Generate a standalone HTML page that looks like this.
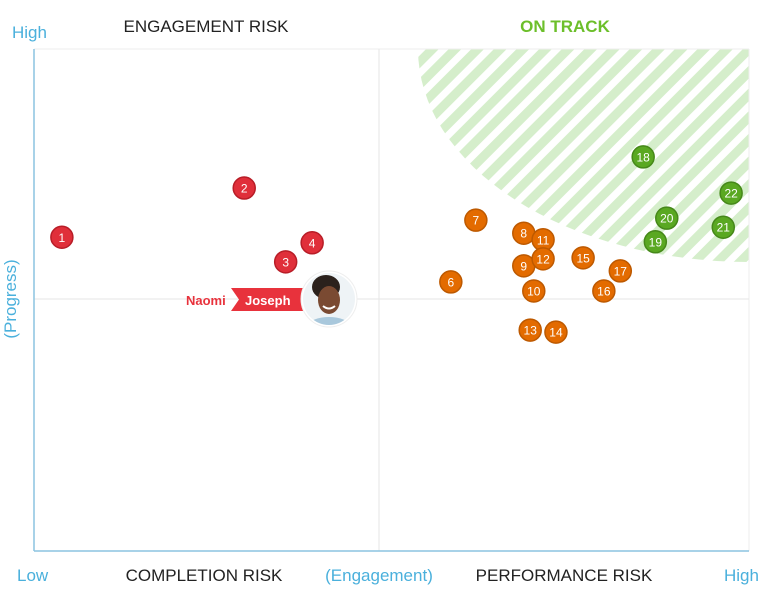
<!DOCTYPE html>
<html><head><meta charset="utf-8"><style>
html,body{margin:0;padding:0;background:#fff;width:774px;height:595px;overflow:hidden}
svg text{font-family:"Liberation Sans","DejaVu Sans",sans-serif}
</style></head><body>
<svg id="chart" width="774" height="595" viewBox="0 0 774 595" xmlns="http://www.w3.org/2000/svg">
<defs>
<pattern id="hatch" patternUnits="userSpaceOnUse" width="16" height="16" patternTransform="rotate(45)">
<rect x="0" y="0" width="9" height="16" fill="#d5eecb"/>
</pattern>
<clipPath id="plotclip"><rect x="34" y="49" width="715" height="502"/></clipPath>
<clipPath id="avclip"><circle cx="329" cy="299" r="26"/></clipPath>
</defs>
<g id="hatch-area" clip-path="url(#plotclip)">
<ellipse cx="749" cy="49" rx="331" ry="213" fill="url(#hatch)"/>
</g>
<line x1="34" y1="49" x2="749" y2="49" stroke="#eeeeee"/>
<line x1="749" y1="49" x2="749" y2="551" stroke="#eeeeee"/>
<line x1="379" y1="49" x2="379" y2="551" stroke="#e6e6e6"/>
<line x1="34" y1="299" x2="749" y2="299" stroke="#e6e6e6"/>
<line x1="34" y1="49" x2="34" y2="551" stroke="#8cc4e0" stroke-width="1.5"/>
<line x1="34" y1="551" x2="749" y2="551" stroke="#8cc4e0" stroke-width="1.5"/>

<text x="12" y="38" font-size="17" fill="#4ab0dc">High</text>
<text x="206" y="32" font-size="17" fill="#222" text-anchor="middle">ENGAGEMENT RISK</text>
<text x="565" y="32" font-size="17" fill="#6cbf2a" font-weight="bold" text-anchor="middle">ON TRACK</text>
<text x="17" y="581" font-size="17" fill="#4ab0dc">Low</text>
<text x="204" y="581" font-size="17" fill="#222" text-anchor="middle">COMPLETION RISK</text>
<text x="379" y="581" font-size="17" fill="#4ab0dc" text-anchor="middle">(Engagement)</text>
<text x="564" y="581" font-size="17" fill="#222" text-anchor="middle">PERFORMANCE RISK</text>
<text x="724" y="581" font-size="17" fill="#4ab0dc">High</text>
<text transform="translate(16,299) rotate(-90)" font-size="17" fill="#4ab0dc" text-anchor="middle">(Progress)</text>

<g id="points"></g>

<g>
<text x="186" y="305" font-size="13" font-weight="bold" fill="#e8323c">Naomi</text>
<path d="M231,288 L310,288 L310,311 L231,311 L239,299.5 Z" fill="#e8323c"/>
<text x="245" y="305" font-size="13" font-weight="bold" fill="#fff">Joseph</text>
<circle cx="329" cy="299" r="28" fill="#fff" stroke="#eee"/>
<g clip-path="url(#avclip)">
<rect x="300" y="270" width="60" height="60" fill="#eef3f6"/>
<ellipse cx="329" cy="325" rx="20" ry="8" fill="#a9c8dc"/>
<ellipse cx="326" cy="287" rx="14" ry="12" fill="#2b211c"/>
<ellipse cx="329" cy="300" rx="11" ry="14" fill="#7a4a32"/>
<path d="M323,306 Q329,311 335,306" stroke="#fff" stroke-width="2" fill="none"/>
</g>
</g>
</svg>
<script>
const labels=["1","2","3","4","6","7","8","9","10","11","12","13","14","15","16","17","18","19","20","21","22"];
const engagement=[3.9,29.4,35.2,38.9,58.3,61.8,68.5,68.5,69.9,71.2,71.2,69.4,73.0,76.8,79.7,82.0,85.2,86.9,88.5,96.4,97.5];
const progress=[62.5,72.3,57.6,61.4,53.6,65.9,63.3,56.8,51.8,62.0,58.2,44.0,43.6,58.4,51.8,55.8,78.5,61.6,66.3,64.5,71.3];
const status=["red","red","red","red","orange","orange","orange","orange","orange","orange","orange","orange","orange","orange","orange","orange","green","green","green","green","green"];
const fills={red:"#e02f3a",orange:"#e36b00",green:"#5aa822"};
const strokes={red:"#b81d27",orange:"#bd5900",green:"#46881a"};
function xs(v){return 34+v/100*715;}
function ys(v){return 551-v/100*502;}
const NS="http://www.w3.org/2000/svg";
const g=document.getElementById("points");
for(let i=0;i<labels.length;i++){
  const grp=document.createElementNS(NS,"g");
  
  
  const c=document.createElementNS(NS,"circle");
  c.setAttribute("cx",xs(engagement[i]));c.setAttribute("cy",ys(progress[i]));c.setAttribute("r",11);
  c.setAttribute("fill",fills[status[i]]);c.setAttribute("stroke",strokes[status[i]]);c.setAttribute("stroke-width",1.5);
  
  
  const t=document.createElementNS(NS,"text");
  t.setAttribute("x",xs(engagement[i]));t.setAttribute("y",ys(progress[i])+4.5);
  t.setAttribute("text-anchor","middle");t.setAttribute("font-size","12");t.setAttribute("fill","#fff");
  
  
  t.textContent=labels[i];
  grp.appendChild(c);grp.appendChild(t);g.appendChild(grp);
}
</script>
</body></html>
